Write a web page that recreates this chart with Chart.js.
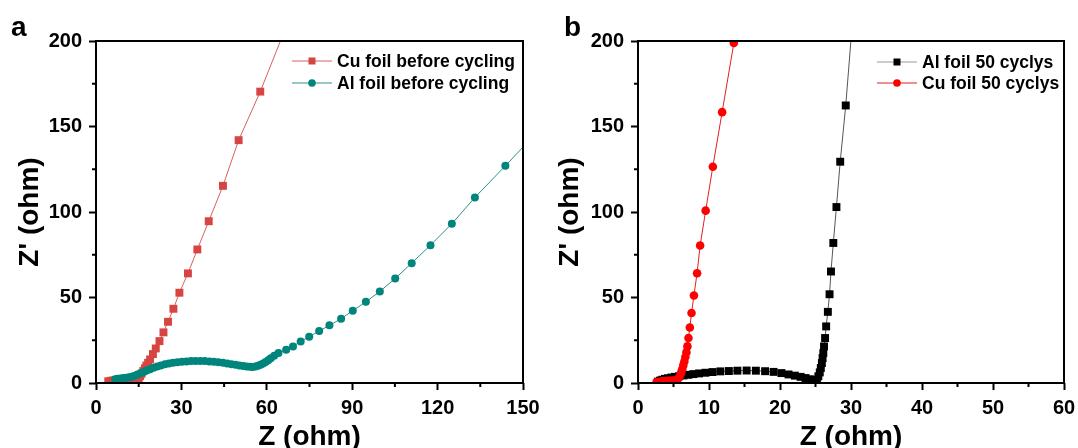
<!DOCTYPE html>
<html lang="en">
<head>
<meta charset="UTF-8" />
<title>Nyquist plots</title>
<script src="https://cdn.jsdelivr.net/npm/chart.js"></script>
<style>
  html, body { margin: 0; padding: 0; background: #fff; overflow: hidden; }
  #wrap { position: relative; width: 1078px; height: 448px; }
  #wrap canvas { position: absolute; top: 0; }
  #chartA { left: 0; }
  #chartB { left: 540px; }
</style>
</head>
<body>
<div id="wrap">
  <canvas id="chartA" width="540" height="448"></canvas>
  <canvas id="chartB" width="538" height="448"></canvas>
</div>
<script>
const FONT = '"Liberation Sans", Arial, sans-serif';

// panel a - before cycling
const cuBeforeZ = [4.3, 5.2, 6.1, 7.0, 7.9, 8.8, 9.7, 10.6, 11.5, 12.3, 13.1, 13.8, 14.4, 15.0, 15.5, 16.0, 16.6, 17.2, 17.7, 18.3, 19.0, 20.0, 21.0, 22.3, 23.7, 25.3, 27.2, 29.3, 32.3, 35.6, 39.6, 44.6, 50.1, 57.7, 65.6];
const cuBeforeZi = [1.0, 1.3, 1.5, 1.6, 1.7, 1.7, 1.6, 1.5, 1.3, 1.1, 1.0, 1.1, 1.6, 2.8, 4.0, 5.4, 7.0, 8.6, 10.2, 11.8, 13.8, 16.9, 20.2, 24.5, 29.6, 35.8, 43.4, 52.8, 64.1, 78.1, 94.6, 115.3, 142.0, 170.4, 203.4];
const alBeforeZ = [6.7, 7.6, 8.6, 9.6, 10.6, 11.6, 12.6, 13.6, 14.6, 15.6, 16.7, 17.8, 19.0, 20.2, 21.5, 22.8, 24.2, 25.6, 27.1, 28.6, 30.2, 31.8, 33.4, 35.0, 36.6, 38.2, 39.8, 41.4, 43.0, 44.6, 46.1, 47.6, 49.0, 50.4, 51.7, 52.9, 54.0, 55.0, 56.0, 56.9, 57.8, 58.7, 59.6, 60.5, 61.4, 62.6, 64.1, 66.8, 69.2, 71.9, 74.9, 78.4, 82.0, 86.1, 90.2, 94.8, 99.7, 105.1, 110.9, 117.5, 125.0, 133.1, 143.8, 156.8];
const alBeforeZi = [2.2, 2.5, 2.7, 2.9, 3.1, 3.3, 3.7, 4.2, 4.9, 5.7, 6.5, 7.3, 8.1, 8.9, 9.6, 10.3, 10.9, 11.4, 11.8, 12.1, 12.4, 12.6, 12.8, 12.9, 12.9, 12.8, 12.6, 12.4, 12.1, 11.8, 11.4, 11.0, 10.6, 10.3, 10.0, 9.7, 9.5, 9.4, 9.6, 10.1, 10.7, 11.4, 12.3, 13.3, 14.5, 15.9, 17.5, 19.5, 21.4, 24.3, 27.1, 30.4, 33.7, 37.6, 42.3, 47.5, 53.5, 61.1, 70.1, 80.6, 93.1, 108.5, 127.0, 150.0];

// panel b - after 50 cycles
const al50Z = [2.8, 3.1, 3.4, 3.8, 4.2, 4.7, 5.2, 5.8, 6.4, 7.1, 7.8, 8.6, 9.5, 10.5, 11.6, 12.8, 14.0, 15.3, 16.6, 17.9, 19.1, 20.2, 21.2, 22.1, 22.9, 23.6, 24.2, 24.7, 25.0, 25.2, 25.4, 25.6, 25.75, 25.9, 26.0, 26.1, 26.2, 26.35, 26.5, 26.74, 26.98, 27.18, 27.51, 27.95, 28.48, 29.26, 30.1];
const al50Zi = [0.8, 1.4, 1.9, 2.4, 2.8, 3.2, 3.6, 4.0, 4.4, 4.8, 5.2, 5.6, 6.0, 6.4, 6.8, 7.0, 7.2, 7.3, 7.2, 6.9, 6.5, 5.8, 5.0, 4.3, 3.6, 2.9, 2.2, 1.5, 1.0, 1.9, 3.9, 6.2, 8.8, 11.7, 14.6, 17.5, 21.4, 26.3, 33.1, 41.6, 51.9, 65.2, 81.9, 102.9, 129.4, 162.3, 206];
const cu50Z = [2.6, 2.9, 3.2, 3.5, 3.8, 4.1, 4.4, 4.7, 5.0, 5.25, 5.46, 5.75, 5.95, 6.09, 6.24, 6.38, 6.53, 6.67, 6.82, 6.96, 7.11, 7.30, 7.54, 7.88, 8.32, 8.75, 9.53, 10.54, 11.85, 13.5, 15.5];
const cu50Zi = [0.4, 0.6, 0.8, 1.0, 1.1, 1.2, 1.3, 1.3, 1.4, 1.5, 1.8, 2.9, 4.5, 6.2, 8.2, 10.3, 12.6, 15.2, 17.9, 21.4, 26.3, 32.5, 40.9, 51.2, 64.2, 80.4, 100.8, 126.5, 158.4, 198.8, 249];

const xTicksA = [0, 30, 60, 90, 120, 150];
const xTicksB = [0, 10, 20, 30, 40, 50, 60];
const yTicks = [0, 50, 100, 150, 200];

function pts(xs, ys) {
  return xs.map((x, i) => ({ x: x, y: ys[i] }));
}

// box, minor ticks, legend and panel letter
const framePlugin = {
  id: 'frame',
  afterDraw(chart, args, opts) {
    const ctx = chart.ctx, a = chart.chartArea;
    const xs = chart.scales.x, ys = chart.scales.y;
    ctx.save();
    ctx.strokeStyle = '#000';
    ctx.lineWidth = 2;
    ctx.strokeRect(a.left, a.top, a.right - a.left, a.bottom - a.top);
    ctx.beginPath();
    for (let i = 1; i < xs.ticks.length; i++) {
      const px = xs.getPixelForValue((xs.ticks[i - 1].value + xs.ticks[i].value) / 2);
      ctx.moveTo(px, a.bottom);
      ctx.lineTo(px, a.bottom + 4);
    }
    for (let i = 1; i < ys.ticks.length; i++) {
      const py = ys.getPixelForValue((ys.ticks[i - 1].value + ys.ticks[i].value) / 2);
      ctx.moveTo(a.left, py);
      ctx.lineTo(a.left - 4, py);
    }
    ctx.stroke();

    // legend
    ctx.font = 'bold 17.5px ' + FONT;
    ctx.textBaseline = 'middle';
    chart.data.datasets.forEach((ds, i) => {
      const y = opts.rows[i];
      const x0 = opts.lineX;
      ctx.strokeStyle = ds.legendLine || ds.borderColor;
      ctx.lineWidth = 1;
      ctx.beginPath();
      ctx.moveTo(x0, y);
      ctx.lineTo(x0 + 40, y);
      ctx.stroke();
      ctx.fillStyle = ds.pointBackgroundColor;
      if (ds.pointStyle === 'rect') {
        ctx.fillRect(x0 + 20 - 3.5, y - 3.5, 7, 7);
      } else {
        ctx.beginPath();
        ctx.arc(x0 + 20, y, 3.8, 0, Math.PI * 2);
        ctx.fill();
      }
      ctx.fillStyle = '#000';
      ctx.fillText(ds.label, x0 + 45, y + 1);
    });

    ctx.font = 'bold 28px ' + FONT;
    ctx.textBaseline = 'alphabetic';
    ctx.fillText(opts.letter, opts.letterX, 36);
    ctx.restore();
  }
};

function makeChart(id, datasets, xMax, xTicks, pad, yWidth, frame) {
  return new Chart(document.getElementById(id), {
    type: 'scatter',
    data: { datasets: datasets },
    options: {
      responsive: false,
      animation: false,
      layout: { padding: pad, autoPadding: false },
      plugins: {
        legend: { display: false },
        tooltip: { enabled: false },
        frame: frame
      },
      scales: {
        x: {
          type: 'linear', min: 0, max: xMax,
          afterBuildTicks: s => { s.ticks = xTicks.map(v => ({ value: v })); },
          afterFit: s => { s.height = 448 - 383; s.paddingLeft = 0; s.paddingRight = 0; },
          grid: { drawOnChartArea: false, tickLength: 7, tickWidth: 2, tickColor: '#000' },
          border: { display: false },
          ticks: { color: '#000', font: { family: FONT, size: 20, weight: 'bold' }, padding: 6, maxRotation: 0, autoSkip: false },
          title: { display: true, text: 'Z (ohm)', color: '#000', font: { family: FONT, size: 28, weight: 'bold' }, padding: { top: 0, bottom: -6 } }
        },
        y: {
          type: 'linear', min: 0, max: 200,
          afterBuildTicks: s => { s.ticks = yTicks.map(v => ({ value: v })); },
          afterFit: s => { s.width = yWidth; s.paddingTop = 0; s.paddingBottom = 0; },
          grid: { drawOnChartArea: false, tickLength: 7, tickWidth: 2, tickColor: '#000' },
          border: { display: false },
          ticks: { color: '#000', font: { family: FONT, size: 20, weight: 'bold' }, padding: 7, autoSkip: false },
          title: { display: true, text: "Z' (ohm)", color: '#000', font: { family: FONT, size: 28, weight: 'bold' }, padding: { top: 13, bottom: 0 } }
        }
      }
    },
    plugins: [framePlugin]
  });
}

makeChart('chartA', [
  {
    label: 'Cu foil before cycling', data: pts(cuBeforeZ, cuBeforeZi), order: 1,
    showLine: true, borderColor: '#d9605c', borderWidth: 1, tension: 0,
    pointStyle: 'rect', pointRadius: 5.6, pointBackgroundColor: '#d64541', pointBorderWidth: 0
  },
  {
    label: 'Al foil before cycling', data: pts(alBeforeZ, alBeforeZi), order: 0,
    showLine: true, borderColor: '#2e918a', borderWidth: 1, tension: 0,
    pointStyle: 'circle', pointRadius: 4, pointBackgroundColor: '#00857c', pointBorderWidth: 0
  }
], 150, xTicksA, { left: 0, top: 41, right: 17, bottom: 0 }, 96,
  { rows: [61, 83], lineX: 292, letter: 'a', letterX: 11 });

makeChart('chartB', [
  {
    label: 'Al foil 50 cyclys', data: pts(al50Z, al50Zi), order: 1,
    showLine: true, borderColor: '#555555', legendLine: '#999999', borderWidth: 1, tension: 0,
    pointStyle: 'rect', pointRadius: 5.6, pointBackgroundColor: '#000000', pointBorderWidth: 0
  },
  {
    label: 'Cu foil 50 cyclys', data: pts(cu50Z, cu50Zi), order: 0,
    showLine: true, borderColor: '#e02020', borderWidth: 1, tension: 0,
    pointStyle: 'circle', pointRadius: 4.3, pointBackgroundColor: '#ff0000', pointBorderWidth: 0
  }
], 60, xTicksB, { left: 0, top: 41, right: 14, bottom: 0 }, 98,
  { rows: [62, 83], lineX: 337, letter: 'b', letterX: 24 });
</script>
</body>
</html>
